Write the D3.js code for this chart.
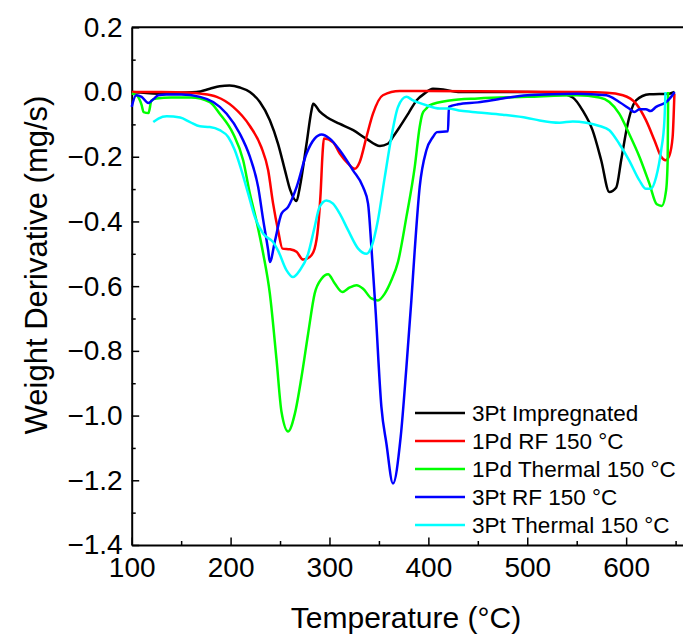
<!DOCTYPE html>
<html>
<head>
<meta charset="utf-8">
<script src="https://cdn.jsdelivr.net/npm/d3@7"></script>
<style>
  body { margin: 0; background: #fff; }
  svg { display: block; font-family: "Liberation Sans", Arial, sans-serif; }
</style>
</head>
<body>
<svg width="683" height="637"></svg>
<script>
// series: temperature (°C) and weight derivative (mg/s)
var impregT = [100,115,130,145,165.6,179,189,199,209.4,219.5,229.6,239.7,248,255,260,266.7,270,276.8,281.8,283.5,290,297,310,324,337,351,359,365,371,380,388,396,404.6,415,430,460,500,530,546,556,566,574.7,583,590,595,601.6,610,623.5,643.7,649];
var impregV = [0,-0.003,-0.005,-0.002,0,0.01,0.018,0.02,0.014,0,-0.031,-0.087,-0.16,-0.242,-0.3,-0.337,-0.294,-0.16,-0.057,-0.036,-0.06,-0.077,-0.098,-0.118,-0.144,-0.167,-0.16,-0.135,-0.108,-0.065,-0.026,-0.005,0.01,0.008,0,0,0,-0.002,-0.017,-0.057,-0.118,-0.21,-0.309,-0.295,-0.21,-0.098,-0.026,-0.007,-0.005,0];

var pdRfT = [100,130,160,169,186,202.6,219.5,231,238,243,248,252.5,260,266.7,273.3,280,285,288.5,291,293,294.3,303.6,310.4,318.8,325.6,330.6,337.4,344,354,371,400,450,500,550,580,596.7,610,620,628.6,635.4,639.8,643.7,647,648.8];
var pdRfV = [0,0,-0.002,-0.005,-0.015,-0.046,-0.105,-0.17,-0.242,-0.345,-0.427,-0.484,-0.486,-0.494,-0.518,-0.51,-0.484,-0.417,-0.314,-0.19,-0.144,-0.155,-0.19,-0.221,-0.237,-0.216,-0.139,-0.067,-0.01,0.003,0.003,0.002,0.001,0,-0.002,-0.01,-0.036,-0.087,-0.149,-0.2,-0.211,-0.196,-0.139,-0.005];

var pdThT = [100,105,110,112,117,120,125,140,160,179,189,202.6,212.7,219.5,226,233,239.7,246.5,251.5,258.2,265,271.7,278.4,285,292,298.6,305.4,313,320.5,327.3,334,342.4,349,355.9,362.6,369.3,377.8,386.2,391.2,394,398,401,421.5,450,500,550,573,583,593,603,613.4,623.5,631,636,640.4,642,642.5];
var pdThV = [-0.005,-0.01,-0.04,-0.062,-0.065,-0.026,-0.02,-0.017,-0.017,-0.031,-0.067,-0.129,-0.211,-0.314,-0.396,-0.5,-0.623,-0.829,-0.989,-1.049,-0.994,-0.881,-0.747,-0.623,-0.577,-0.563,-0.592,-0.618,-0.604,-0.597,-0.608,-0.638,-0.644,-0.623,-0.582,-0.525,-0.386,-0.232,-0.108,-0.067,-0.051,-0.041,-0.026,-0.02,-0.015,-0.01,-0.017,-0.031,-0.067,-0.129,-0.2,-0.283,-0.347,-0.352,-0.304,-0.211,0];

var ptRfT = [100,104.5,110,116.8,122,127,135,150,169,182.4,196,209.4,219.5,227.9,233,238,239.7,245,251.5,258.2,266.7,276.8,285,292,300.3,310.4,323.8,334,339,342.4,346.5,352.5,357.6,364.2,372,377.8,382.8,386.2,391.2,398,404.6,408.7,419.8,420.8,430,450,475,500,550,580,593,603,608.4,613.4,620,624.6,630.3,640.4,645.5,649];
var ptRfV = [-0.046,-0.01,-0.015,-0.034,-0.022,-0.01,-0.008,-0.008,-0.015,-0.031,-0.067,-0.129,-0.2,-0.294,-0.396,-0.489,-0.525,-0.458,-0.376,-0.355,-0.294,-0.19,-0.144,-0.131,-0.144,-0.18,-0.242,-0.294,-0.345,-0.479,-0.669,-0.973,-1.087,-1.21,-1.066,-0.85,-0.644,-0.489,-0.294,-0.18,-0.139,-0.124,-0.121,-0.046,-0.038,-0.032,-0.02,-0.01,-0.005,-0.01,-0.031,-0.051,-0.062,-0.053,-0.053,-0.059,-0.046,-0.031,-0.015,0];

var ptThT = [121.8,127,135.4,149,159,169,179,189,197.6,204.3,211,217.8,224.5,233,243,248,256.6,263,270,278.4,285,290,297,303.6,310.4,318.8,329,337.4,342.4,349,355.9,362.6,369.3,377.8,384.5,398,411.4,419.8,433,450,475,500,512.5,532.7,546,559.6,573,583,593,603,613.4,620,625,630.3,635.4,638.7,639.8];
var ptThV = [-0.093,-0.082,-0.075,-0.079,-0.093,-0.106,-0.108,-0.118,-0.139,-0.18,-0.242,-0.314,-0.386,-0.438,-0.464,-0.49,-0.551,-0.572,-0.551,-0.5,-0.417,-0.355,-0.335,-0.345,-0.376,-0.427,-0.484,-0.5,-0.479,-0.396,-0.263,-0.139,-0.046,-0.015,-0.026,-0.041,-0.051,-0.051,-0.058,-0.063,-0.07,-0.08,-0.088,-0.095,-0.091,-0.095,-0.105,-0.118,-0.16,-0.211,-0.273,-0.299,-0.299,-0.263,-0.18,-0.088,0];

var seriesNames = ["3Pt Impregnated", "1Pd RF 150 °C", "1Pd Thermal 150 °C", "3Pt RF 150 °C", "3Pt Thermal 150 °C"];
var seriesColors = ["#000000", "#ff0000", "#00ff00", "#0000ff", "#00ffff"];

var svg = d3.select("svg"),
    plotLeft = 131.7,
    plotRight = 684,
    plotTop = 27.3,
    plotBottom = 545;

var xScale = d3.scaleLinear().domain([100, 658.5]).range([plotLeft, plotRight]);
var yScale = d3.scaleLinear().domain([-1.4, 0.2]).range([plotBottom, plotTop]);

var g = svg.append("g");

//axis x
var xAxis = g.append("g")
    .attr("transform", "translate(0," + plotBottom + ")")
    .call(d3.axisBottom(xScale).tickValues(d3.range(100, 660, 50)).tickSizeInner(-7.5).tickSizeOuter(0)
      .tickFormat(function(d){ return d % 100 === 0 ? d : ""; }));
xAxis.selectAll(".tick line").attr("y2", function(d){ return d % 100 === 0 ? -7.5 : -4; });
xAxis.selectAll(".tick text").attr("y", 12).attr("dy", "0.71em");

//axis y
var yAxis = g.append("g")
    .attr("transform", "translate(" + plotLeft + ",0)")
    .call(d3.axisLeft(yScale).tickValues(d3.range(-14, 3).map(function(d){ return d / 10; })).tickSizeInner(-7.5).tickSizeOuter(0)
      .tickFormat(function(d){ var k = Math.round(d * 10); return k % 2 === 0 ? d3.format(".1f")(d) : ""; }));
yAxis.selectAll(".tick line").attr("x2", function(d){ return Math.round(d * 10) % 2 === 0 ? 7.5 : 4; });
yAxis.selectAll(".tick text").attr("x", -9);

g.selectAll(".domain").attr("stroke-width", 2);
g.selectAll(".tick line").attr("stroke-width", 1.5);
g.selectAll(".tick text").attr("font-size", 28).attr("font-family", "Liberation Sans, Arial, sans-serif").attr("fill", "#000");

// top frame line
g.append("line")
    .attr("x1", plotLeft).attr("x2", plotRight)
    .attr("y1", plotTop).attr("y2", plotTop)
    .attr("stroke", "#000").attr("stroke-width", 2);

var allT = [impregT, pdRfT, pdThT, ptRfT, ptThT];
var allV = [impregV, pdRfV, pdThV, ptRfV, ptThV];

var line = d3.line()
    .x(function(d) { return xScale(d[0]) })
    .y(function(d) { return yScale(d[1]) })
    .curve(d3.curveMonotoneX);

for (var i = 0; i < 5; i++) {
  var pts = allT[i].map(function(t, j){ return [t, allV[i][j]]; });
  g.append("path")
      .datum(pts)
      .attr("fill", "none")
      .attr("stroke", seriesColors[i])
      .attr("stroke-width", 2.5)
      .attr("stroke-linejoin", "round")
      .attr("d", line);
}

// legend
var legend = g.append("g").attr("transform", "translate(415,413)");
seriesNames.forEach(function(name, i) {
  legend.append("line")
      .attr("x1", 0).attr("x2", 50)
      .attr("y1", i * 28).attr("y2", i * 28)
      .attr("stroke", seriesColors[i]).attr("stroke-width", 2.5);
  legend.append("text")
      .attr("x", 57).attr("y", i * 28)
      .attr("dy", "0.35em")
      .attr("font-size", 22.5)
      .text(name);
});

// axis titles
svg.append("text")
    .attr("x", 406)
    .attr("y", 628)
    .attr("text-anchor", "middle")
    .attr("font-size", 30)
    .text("Temperature (°C)");

svg.append("text")
    .attr("transform", "translate(47," + 265 + ") rotate(-90)")
    .attr("text-anchor", "middle")
    .attr("font-size", 31)
    .text("Weight Derivative (mg/s)");
</script>
</body>
</html>
